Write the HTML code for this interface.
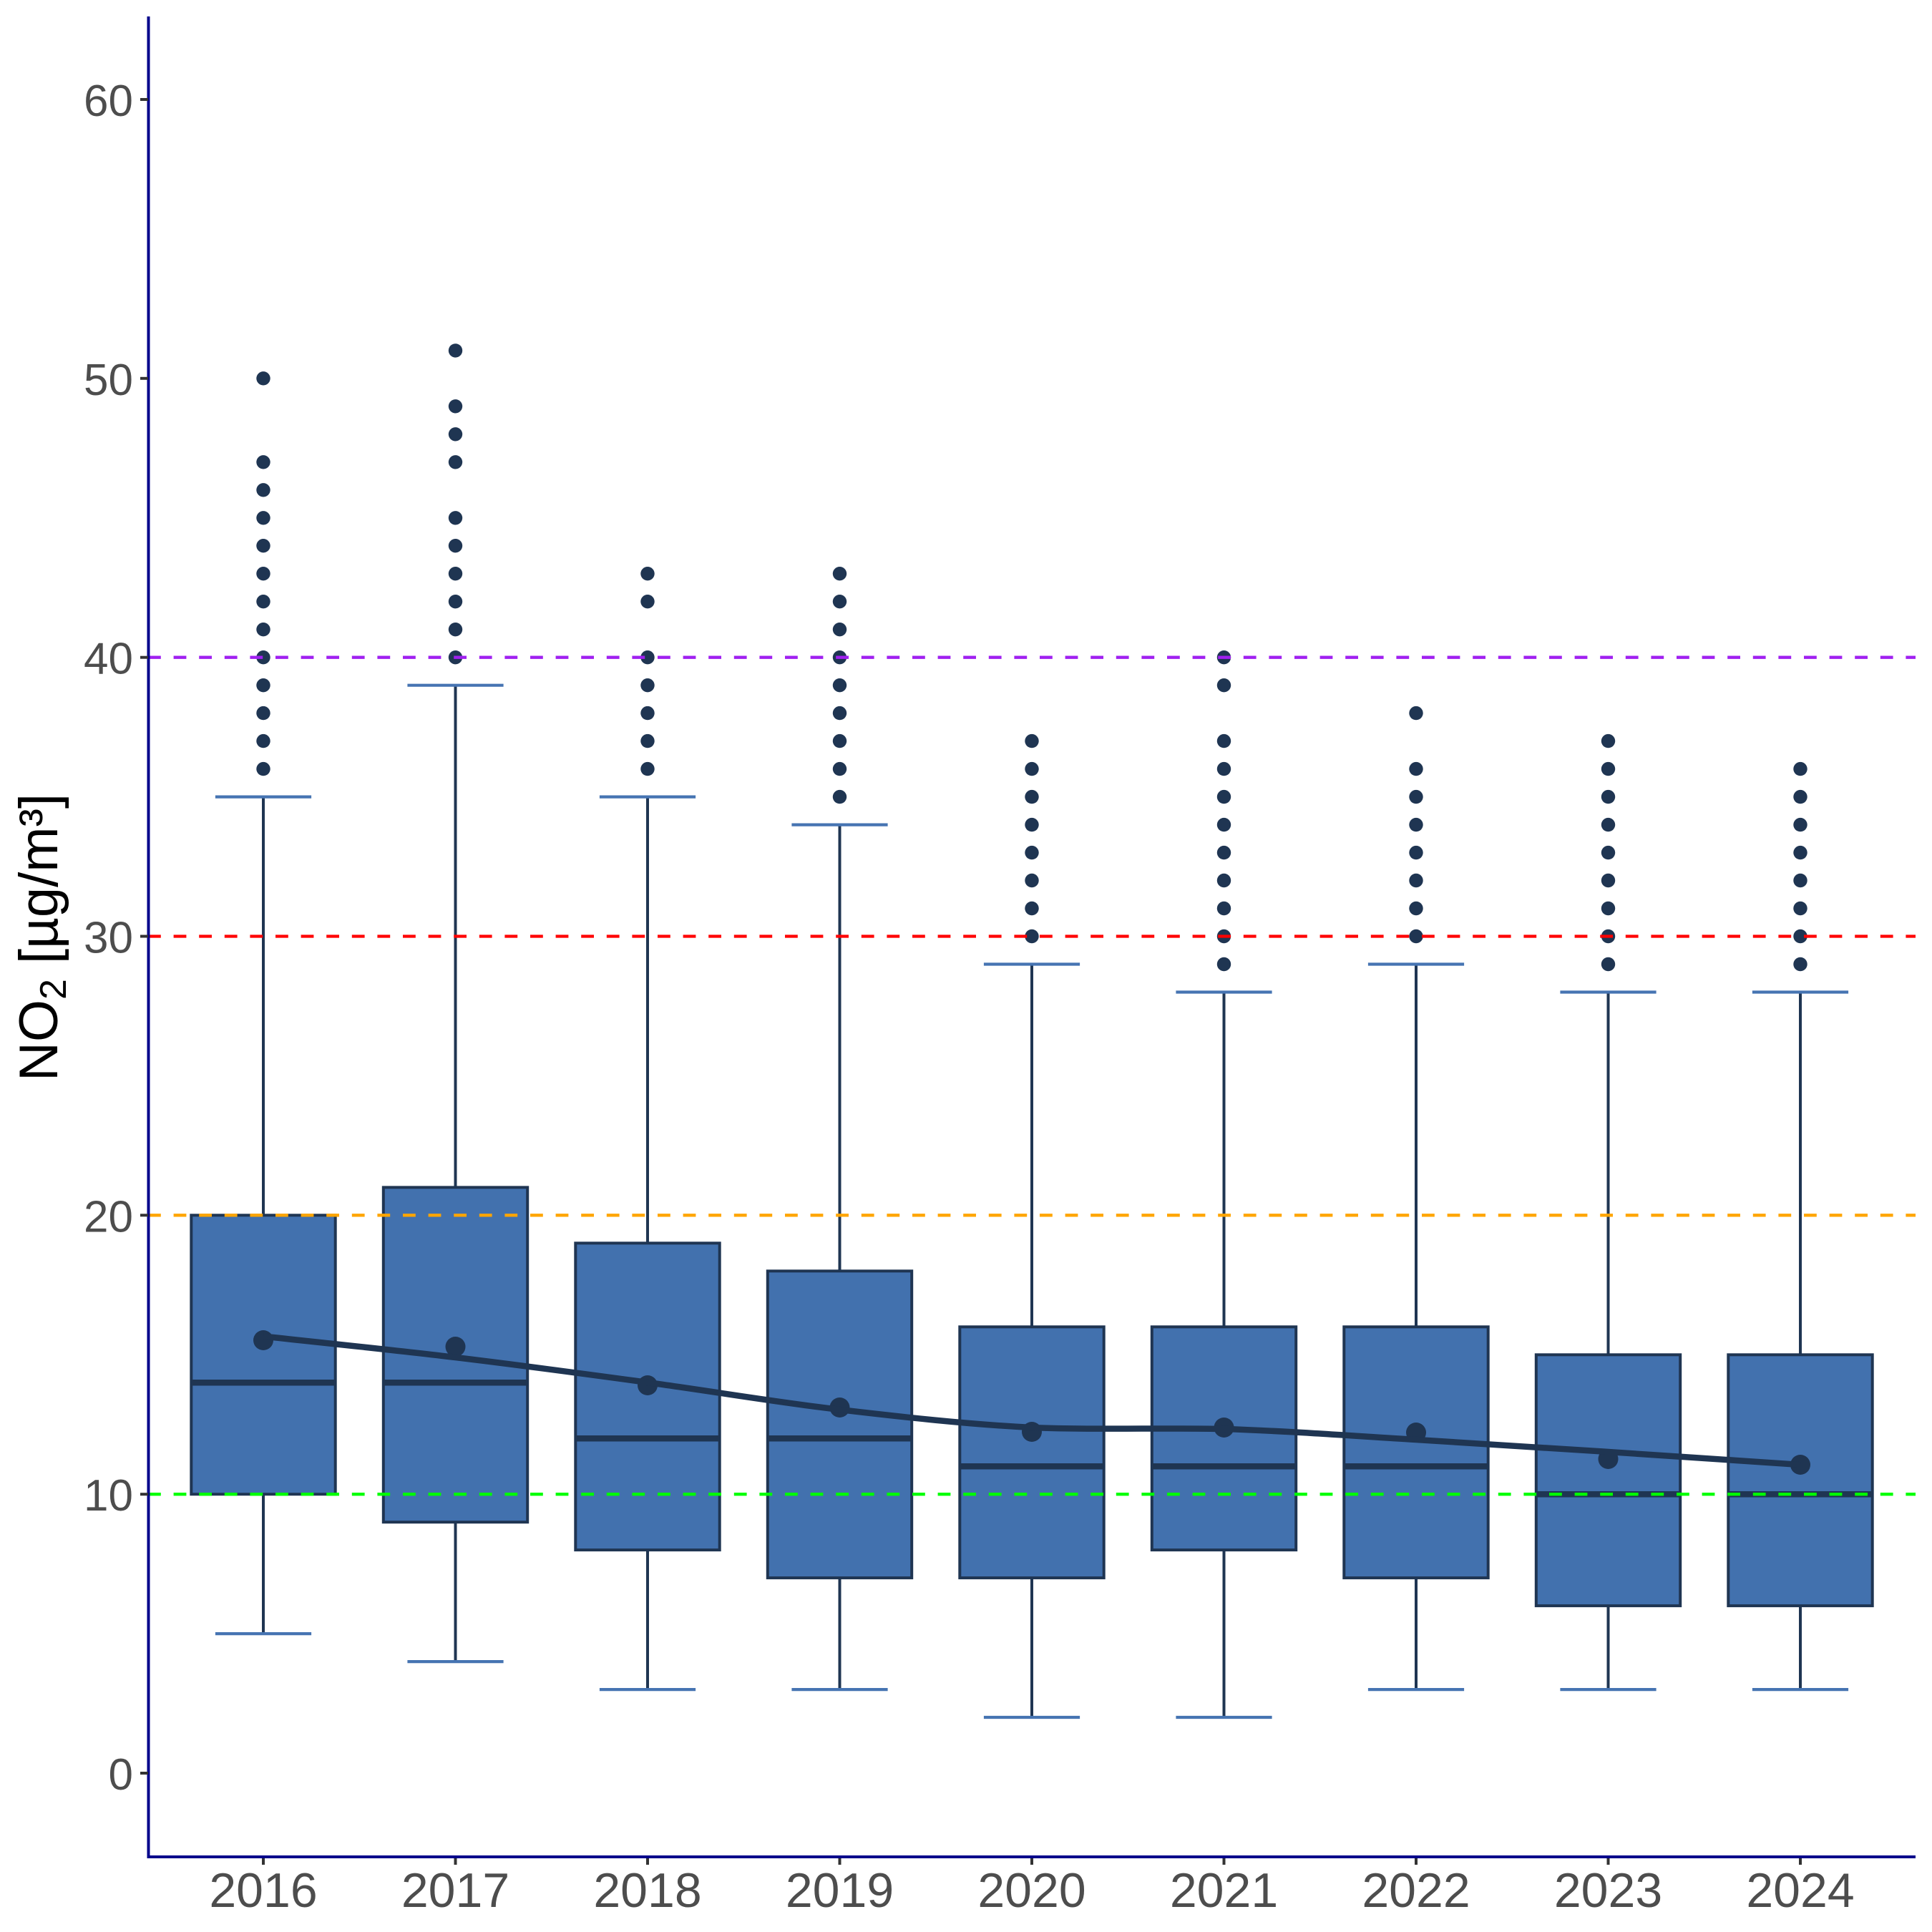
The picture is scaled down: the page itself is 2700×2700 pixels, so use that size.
<!DOCTYPE html>
<html>
<head>
<meta charset="utf-8">
<style>
html,body{margin:0;padding:0;background:#ffffff;}
svg{display:block;}
</style>
</head>
<body>
<svg width="2700" height="2700" viewBox="0 0 2700 2700" xmlns="http://www.w3.org/2000/svg" font-family="'Liberation Sans', 'DejaVu Sans', sans-serif">
<rect x="0" y="0" width="2700" height="2700" fill="#ffffff"/>

<!-- whiskers -->
<g stroke="#1F3552" stroke-width="4" fill="none">
<line x1="368" y1="1113.6" x2="368" y2="1698.3"/><line x1="368" y1="2088.2" x2="368" y2="2283.1"/>
<line x1="636.5" y1="957.7" x2="636.5" y2="1659.4"/><line x1="636.5" y1="2127.2" x2="636.5" y2="2322.1"/>
<line x1="905" y1="1113.6" x2="905" y2="1737.3"/><line x1="905" y1="2166.1" x2="905" y2="2361.1"/>
<line x1="1173.5" y1="1152.6" x2="1173.5" y2="1776.3"/><line x1="1173.5" y1="2205.1" x2="1173.5" y2="2361.1"/>
<line x1="1442" y1="1347.5" x2="1442" y2="1854.3"/><line x1="1442" y1="2205.1" x2="1442" y2="2400.0"/>
<line x1="1710.5" y1="1386.5" x2="1710.5" y2="1854.3"/><line x1="1710.5" y1="2166.1" x2="1710.5" y2="2400.0"/>
<line x1="1979" y1="1347.5" x2="1979" y2="1854.3"/><line x1="1979" y1="2205.1" x2="1979" y2="2361.1"/>
<line x1="2247.5" y1="1386.5" x2="2247.5" y2="1893.3"/><line x1="2247.5" y1="2244.1" x2="2247.5" y2="2361.1"/>
<line x1="2516" y1="1386.5" x2="2516" y2="1893.3"/><line x1="2516" y1="2244.1" x2="2516" y2="2361.1"/>
</g>

<!-- caps -->
<g stroke="#4674B2" stroke-width="4.2" fill="none">
<line x1="300.9" y1="1113.6" x2="435.1" y2="1113.6"/><line x1="300.9" y1="2283.1" x2="435.1" y2="2283.1"/>
<line x1="569.4" y1="957.7" x2="703.6" y2="957.7"/><line x1="569.4" y1="2322.1" x2="703.6" y2="2322.1"/>
<line x1="837.9" y1="1113.6" x2="972.1" y2="1113.6"/><line x1="837.9" y1="2361.1" x2="972.1" y2="2361.1"/>
<line x1="1106.4" y1="1152.6" x2="1240.6" y2="1152.6"/><line x1="1106.4" y1="2361.1" x2="1240.6" y2="2361.1"/>
<line x1="1374.9" y1="1347.5" x2="1509.1" y2="1347.5"/><line x1="1374.9" y1="2400.0" x2="1509.1" y2="2400.0"/>
<line x1="1643.4" y1="1386.5" x2="1777.6" y2="1386.5"/><line x1="1643.4" y1="2400.0" x2="1777.6" y2="2400.0"/>
<line x1="1911.9" y1="1347.5" x2="2046.1" y2="1347.5"/><line x1="1911.9" y1="2361.1" x2="2046.1" y2="2361.1"/>
<line x1="2180.4" y1="1386.5" x2="2314.6" y2="1386.5"/><line x1="2180.4" y1="2361.1" x2="2314.6" y2="2361.1"/>
<line x1="2448.9" y1="1386.5" x2="2583.1" y2="1386.5"/><line x1="2448.9" y1="2361.1" x2="2583.1" y2="2361.1"/>
</g>

<!-- boxes -->
<g fill="#4271AE" stroke="#1F3552" stroke-width="4">
<rect x="267.3" y="1698.3" width="201.4" height="389.9"/>
<rect x="535.8" y="1659.4" width="201.4" height="467.8"/>
<rect x="804.3" y="1737.3" width="201.4" height="428.8"/>
<rect x="1072.8" y="1776.3" width="201.4" height="428.8"/>
<rect x="1341.3" y="1854.3" width="201.4" height="350.8"/>
<rect x="1609.8" y="1854.3" width="201.4" height="311.8"/>
<rect x="1878.3" y="1854.3" width="201.4" height="350.8"/>
<rect x="2146.8" y="1893.3" width="201.4" height="350.8"/>
<rect x="2415.3" y="1893.3" width="201.4" height="350.8"/>
</g>

<!-- medians -->
<g stroke="#1F3552" stroke-width="8.5">
<line x1="267.3" y1="1932.2" x2="468.7" y2="1932.2"/>
<line x1="535.8" y1="1932.2" x2="737.2" y2="1932.2"/>
<line x1="804.3" y1="2010.2" x2="1005.7" y2="2010.2"/>
<line x1="1072.8" y1="2010.2" x2="1274.2" y2="2010.2"/>
<line x1="1341.3" y1="2049.2" x2="1542.7" y2="2049.2"/>
<line x1="1609.8" y1="2049.2" x2="1811.2" y2="2049.2"/>
<line x1="1878.3" y1="2049.2" x2="2079.7" y2="2049.2"/>
<line x1="2146.8" y1="2088.2" x2="2348.2" y2="2088.2"/>
<line x1="2415.3" y1="2088.2" x2="2616.7" y2="2088.2"/>
</g>

<!-- outliers -->
<g fill="#1F3552">
<!-- 2016 -->
<circle cx="368" cy="1074.6" r="9.7"/><circle cx="368" cy="1035.6" r="9.7"/><circle cx="368" cy="996.6" r="9.7"/><circle cx="368" cy="957.7" r="9.7"/><circle cx="368" cy="918.7" r="9.7"/><circle cx="368" cy="879.7" r="9.7"/><circle cx="368" cy="840.7" r="9.7"/><circle cx="368" cy="801.7" r="9.7"/><circle cx="368" cy="762.7" r="9.7"/><circle cx="368" cy="723.8" r="9.7"/><circle cx="368" cy="684.8" r="9.7"/><circle cx="368" cy="645.8" r="9.7"/><circle cx="368" cy="528.8" r="9.7"/>
<!-- 2017 -->
<circle cx="636.5" cy="918.7" r="9.7"/><circle cx="636.5" cy="879.7" r="9.7"/><circle cx="636.5" cy="840.7" r="9.7"/><circle cx="636.5" cy="801.7" r="9.7"/><circle cx="636.5" cy="762.7" r="9.7"/><circle cx="636.5" cy="723.8" r="9.7"/><circle cx="636.5" cy="645.8" r="9.7"/><circle cx="636.5" cy="606.8" r="9.7"/><circle cx="636.5" cy="567.8" r="9.7"/><circle cx="636.5" cy="489.9" r="9.7"/>
<!-- 2018 -->
<circle cx="905" cy="1074.6" r="9.7"/><circle cx="905" cy="1035.6" r="9.7"/><circle cx="905" cy="996.6" r="9.7"/><circle cx="905" cy="957.7" r="9.7"/><circle cx="905" cy="918.7" r="9.7"/><circle cx="905" cy="840.7" r="9.7"/><circle cx="905" cy="801.7" r="9.7"/>
<!-- 2019 -->
<circle cx="1173.5" cy="1113.6" r="9.7"/><circle cx="1173.5" cy="1074.6" r="9.7"/><circle cx="1173.5" cy="1035.6" r="9.7"/><circle cx="1173.5" cy="996.6" r="9.7"/><circle cx="1173.5" cy="957.7" r="9.7"/><circle cx="1173.5" cy="918.7" r="9.7"/><circle cx="1173.5" cy="879.7" r="9.7"/><circle cx="1173.5" cy="840.7" r="9.7"/><circle cx="1173.5" cy="801.7" r="9.7"/>
<!-- 2020 -->
<circle cx="1442" cy="1308.5" r="9.7"/><circle cx="1442" cy="1269.5" r="9.7"/><circle cx="1442" cy="1230.5" r="9.7"/><circle cx="1442" cy="1191.6" r="9.7"/><circle cx="1442" cy="1152.6" r="9.7"/><circle cx="1442" cy="1113.6" r="9.7"/><circle cx="1442" cy="1074.6" r="9.7"/><circle cx="1442" cy="1035.6" r="9.7"/>
<!-- 2021 -->
<circle cx="1710.5" cy="1347.5" r="9.7"/><circle cx="1710.5" cy="1308.5" r="9.7"/><circle cx="1710.5" cy="1269.5" r="9.7"/><circle cx="1710.5" cy="1230.5" r="9.7"/><circle cx="1710.5" cy="1191.6" r="9.7"/><circle cx="1710.5" cy="1152.6" r="9.7"/><circle cx="1710.5" cy="1113.6" r="9.7"/><circle cx="1710.5" cy="1074.6" r="9.7"/><circle cx="1710.5" cy="1035.6" r="9.7"/><circle cx="1710.5" cy="957.7" r="9.7"/><circle cx="1710.5" cy="918.7" r="9.7"/>
<!-- 2022 -->
<circle cx="1979" cy="1308.5" r="9.7"/><circle cx="1979" cy="1269.5" r="9.7"/><circle cx="1979" cy="1230.5" r="9.7"/><circle cx="1979" cy="1191.6" r="9.7"/><circle cx="1979" cy="1152.6" r="9.7"/><circle cx="1979" cy="1113.6" r="9.7"/><circle cx="1979" cy="1074.6" r="9.7"/><circle cx="1979" cy="996.6" r="9.7"/>
<!-- 2023 -->
<circle cx="2247.5" cy="1347.5" r="9.7"/><circle cx="2247.5" cy="1308.5" r="9.7"/><circle cx="2247.5" cy="1269.5" r="9.7"/><circle cx="2247.5" cy="1230.5" r="9.7"/><circle cx="2247.5" cy="1191.6" r="9.7"/><circle cx="2247.5" cy="1152.6" r="9.7"/><circle cx="2247.5" cy="1113.6" r="9.7"/><circle cx="2247.5" cy="1074.6" r="9.7"/><circle cx="2247.5" cy="1035.6" r="9.7"/>
<!-- 2024 -->
<circle cx="2516" cy="1347.5" r="9.7"/><circle cx="2516" cy="1308.5" r="9.7"/><circle cx="2516" cy="1269.5" r="9.7"/><circle cx="2516" cy="1230.5" r="9.7"/><circle cx="2516" cy="1191.6" r="9.7"/><circle cx="2516" cy="1152.6" r="9.7"/><circle cx="2516" cy="1113.6" r="9.7"/><circle cx="2516" cy="1074.6" r="9.7"/>
</g>

<!-- mean points -->
<g fill="#1F3552">
<circle cx="368" cy="1873" r="14"/>
<circle cx="636.5" cy="1882" r="14"/>
<circle cx="905" cy="1936" r="14"/>
<circle cx="1173.5" cy="1967" r="14"/>
<circle cx="1442" cy="2001" r="14"/>
<circle cx="1710.5" cy="1995" r="14"/>
<circle cx="1979" cy="2002" r="14"/>
<circle cx="2247.5" cy="2039" r="14"/>
<circle cx="2516" cy="2047" r="14"/>
</g>

<!-- reference dashed lines -->
<g stroke-width="4.3" stroke-dasharray="17.8 17.8" fill="none">
<line x1="207" y1="2088.2" x2="2677" y2="2088.2" stroke="#00FF00"/>
<line x1="207" y1="1698.3" x2="2677" y2="1698.3" stroke="#FFA500"/>
<line x1="207" y1="1308.5" x2="2677" y2="1308.5" stroke="#FF0000"/>
<line x1="207" y1="918.7" x2="2677" y2="918.7" stroke="#A020F0"/>
</g>

<!-- smooth trend line -->
<path d="M368,1867.5 C457.5,1877.33 547,1886.25 636.5,1897 C726,1907.75 815.5,1919.83 905,1932 C994.5,1944.17 1084,1959.5 1173.5,1970 C1263,1980.5 1352.5,1990.5 1442,1995 C1531.5,1998.5 1621,1995.2 1710.5,1997 C1800,1999.83 1889.5,2006.67 1979,2012 C2068.5,2017.33 2158,2023.17 2247.5,2029 C2337,2034.83 2426.5,2041 2516,2047" fill="none" stroke="#1F3552" stroke-width="8.5" stroke-linecap="butt"/>

<!-- axes -->
<line x1="207.5" y1="23" x2="207.5" y2="2597" stroke="#00008B" stroke-width="4"/>
<line x1="205.5" y1="2595" x2="2677" y2="2595" stroke="#00008B" stroke-width="4"/>

<!-- y ticks -->
<g stroke="#333333" stroke-width="4">
<line x1="196" y1="2478" x2="207" y2="2478"/>
<line x1="196" y1="2088.2" x2="207" y2="2088.2"/>
<line x1="196" y1="1698.3" x2="207" y2="1698.3"/>
<line x1="196" y1="1308.5" x2="207" y2="1308.5"/>
<line x1="196" y1="918.7" x2="207" y2="918.7"/>
<line x1="196" y1="528.8" x2="207" y2="528.8"/>
<line x1="196" y1="139" x2="207" y2="139"/>
</g>
<!-- x ticks -->
<g stroke="#333333" stroke-width="4">
<line x1="368" y1="2597" x2="368" y2="2606"/>
<line x1="636.5" y1="2597" x2="636.5" y2="2606"/>
<line x1="905" y1="2597" x2="905" y2="2606"/>
<line x1="1173.5" y1="2597" x2="1173.5" y2="2606"/>
<line x1="1442" y1="2597" x2="1442" y2="2606"/>
<line x1="1710.5" y1="2597" x2="1710.5" y2="2606"/>
<line x1="1979" y1="2597" x2="1979" y2="2606"/>
<line x1="2247.5" y1="2597" x2="2247.5" y2="2606"/>
<line x1="2516" y1="2597" x2="2516" y2="2606"/>
</g>

<!-- y tick labels -->
<g fill="#4D4D4D" font-size="62" text-anchor="end">
<text x="186" y="2501">0</text>
<text x="186" y="2111.2">10</text>
<text x="186" y="1721.3">20</text>
<text x="186" y="1331.5">30</text>
<text x="186" y="941.7">40</text>
<text x="186" y="551.8">50</text>
<text x="186" y="162">60</text>
</g>

<!-- x tick labels -->
<g fill="#4D4D4D" font-size="68" text-anchor="middle">
<text x="368" y="2665">2016</text>
<text x="636.5" y="2665">2017</text>
<text x="905" y="2665">2018</text>
<text x="1173.5" y="2665">2019</text>
<text x="1442" y="2665">2020</text>
<text x="1710.5" y="2665">2021</text>
<text x="1979" y="2665">2022</text>
<text x="2247.5" y="2665">2023</text>
<text x="2516" y="2665">2024</text>
</g>

<!-- y axis title -->
<text transform="translate(80,1310) rotate(-90)" text-anchor="middle" font-size="76" fill="#000000">NO<tspan font-size="52" dy="12">2</tspan><tspan dy="-12"> [µg/m³]</tspan></text>
</svg>
</body>
</html>
